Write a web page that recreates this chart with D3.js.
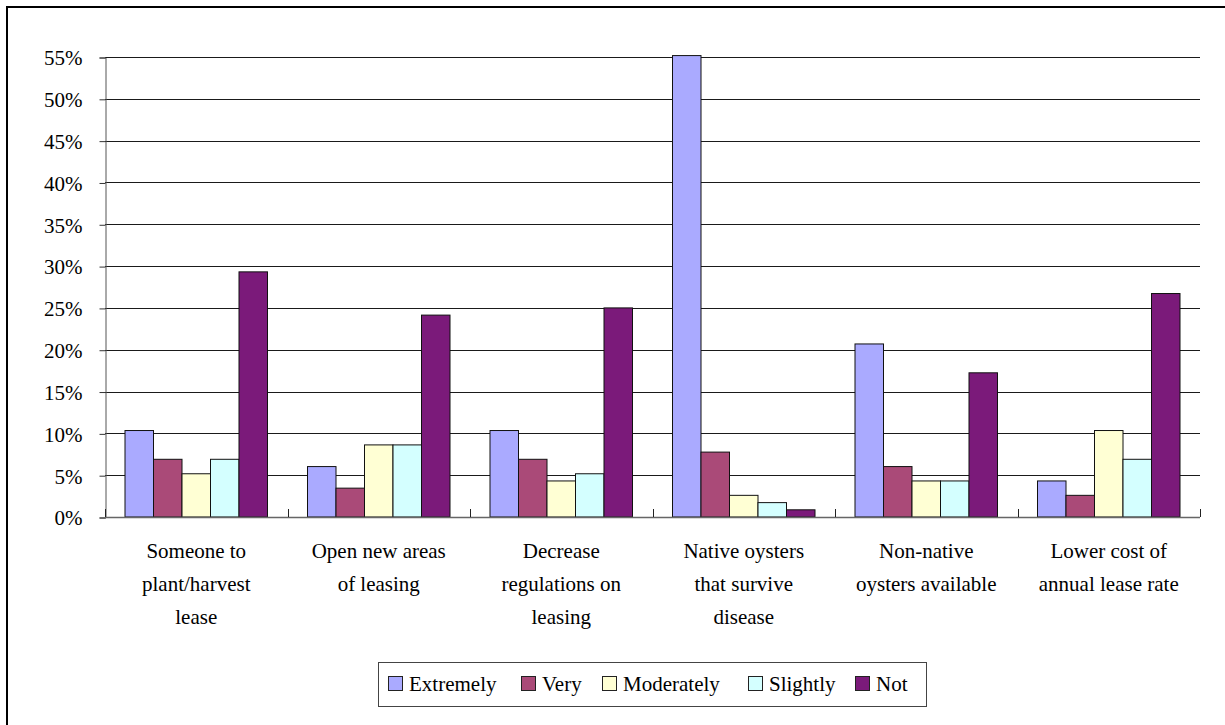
<!DOCTYPE html>
<html>
<head>
<meta charset="utf-8">
<script src="https://cdn.jsdelivr.net/npm/d3@7"></script>
<style>
html,body{margin:0;padding:0;background:#fff;}
svg{display:block;}
</style>
</head>
<body>
<svg id="chart" width="1225" height="725"></svg>
<script>
const categories = [
  ["Someone to","plant/harvest","lease"],
  ["Open new areas","of leasing"],
  ["Decrease","regulations on","leasing"],
  ["Native oysters","that survive","disease"],
  ["Non-native","oysters available"],
  ["Lower cost of","annual lease rate"]
];
const seriesNames = ["Extremely","Very","Moderately","Slightly","Not"];
const seriesColors = ["#aaaaff","#aa4a78","#ffffd4","#d4ffff","#7b1a7a"];
const extremely  = [10.34, 6.03, 10.34, 55.17, 20.69, 4.31];
const very       = [6.90, 3.45, 6.90, 7.76, 6.03, 2.59];
const moderately = [5.17, 8.62, 4.31, 2.59, 4.31, 10.34];
const slightly   = [6.90, 8.62, 5.17, 1.72, 4.31, 6.90];
const notAt      = [29.31, 24.14, 25.00, 0.86, 17.24, 26.72];
const yTicks = [0,5,10,15,20,25,30,35,40,45,50,55];

(function(){
const FONT = "Liberation Serif";
const series = [extremely, very, moderately, slightly, notAt];
const svg = d3.select("#chart");
const pLeft = 105, pRight = 1200, pTop = 57, pBottom = 517;

// outer frame (left & top edges visible)
svg.append("path").attr("d","M7,725 V7 H1225").attr("fill","none").attr("stroke","#000").attr("stroke-width",2);

const y = d3.scaleLinear().domain([0,55]).range([pBottom, pTop]);
const x0 = d3.scaleBand().domain(d3.range(categories.length)).range([pLeft, pRight]).paddingInner(0).paddingOuter(0);
const x1 = d3.scaleBand().domain(d3.range(seriesNames.length)).range([20, x0.bandwidth()-20]).padding(0);

// gridlines
svg.append("g").selectAll("line").data(yTicks.filter(d=>d>0)).join("line")
  .attr("x1", pLeft).attr("x2", pRight)
  .attr("y1", d=>Math.round(y(d))+0.5).attr("y2", d=>Math.round(y(d))+0.5)
  .attr("stroke","#1a1a1a").attr("stroke-width",1);

// y axis
const yAxis = d3.axisLeft(y).tickValues(yTicks).tickFormat(d=>d+"%").tickSize(6).tickPadding(17);
const gy = svg.append("g").attr("transform",`translate(${pLeft+0.5},0.5)`).call(yAxis);
gy.attr("font-family", FONT).attr("font-size", 21);
gy.select(".domain").attr("stroke","#555");
gy.selectAll(".tick line").attr("stroke","#333");
gy.selectAll(".tick text").attr("font-family", FONT).attr("font-size", 21).attr("fill","#000").attr("dy","0.35em");

// bars
const groups = svg.append("g").selectAll("g").data(categories.map((c,i)=>i)).join("g")
  .attr("transform", i=>`translate(${x0(i)},0)`);
groups.selectAll("rect").data(i=>series.map((s,k)=>({k, v:s[i]}))).join("rect")
  .attr("x", d=>x1(d.k)).attr("width", x1.bandwidth())
  .attr("y", d=>y(d.v)).attr("height", d=>pBottom - y(d.v))
  .attr("fill", d=>seriesColors[d.k]).attr("stroke","#111").attr("stroke-width",1);

// x axis line and ticks (inside)
svg.append("line").attr("x1",pLeft).attr("x2",pRight).attr("y1",pBottom+0.5).attr("y2",pBottom+0.5).attr("stroke","#666").attr("stroke-width",1.5);
svg.append("g").selectAll("line").data(d3.range(categories.length+1)).join("line")
  .attr("x1", i=>Math.round(pLeft + i*x0.bandwidth())+0.5).attr("x2", i=>Math.round(pLeft + i*x0.bandwidth())+0.5)
  .attr("y1", pBottom-8).attr("y2", pBottom)
  .attr("stroke","#222");

// category labels
const lab = svg.append("g").attr("font-family", FONT).attr("font-size", 21)
  .selectAll("text").data(categories).join("text")
  .attr("text-anchor","middle").attr("font-family", FONT).attr("font-size", 21).attr("fill","#000")
  .attr("x",(d,i)=>x0(i)+x0.bandwidth()/2).attr("y",558);
lab.selectAll("tspan").data(d=>d).join("tspan")
  .attr("x",function(){return this.parentNode.getAttribute("x");})
  .attr("dy",(d,j)=>j===0?0:33).text(d=>d);

// legend
const legend = svg.append("g").attr("font-family", FONT).attr("font-size", 21);
legend.append("rect").attr("x",378.5).attr("y",662.5).attr("width",548).attr("height",44)
  .attr("fill","#fff").attr("stroke","#444").attr("stroke-width",1);
const legX = [388, 521, 602, 748, 855];
seriesNames.forEach((n,k)=>{
  legend.append("rect").attr("x",legX[k]+0.5).attr("y",676.5).attr("width",14).attr("height",14)
    .attr("fill",seriesColors[k]).attr("stroke","#222").attr("stroke-width",1);
  legend.append("text").attr("x",legX[k]+21).attr("y",691)
    .attr("font-family", FONT).attr("font-size", 21).attr("fill","#000").text(n);
});
})();
</script>
</body>
</html>
